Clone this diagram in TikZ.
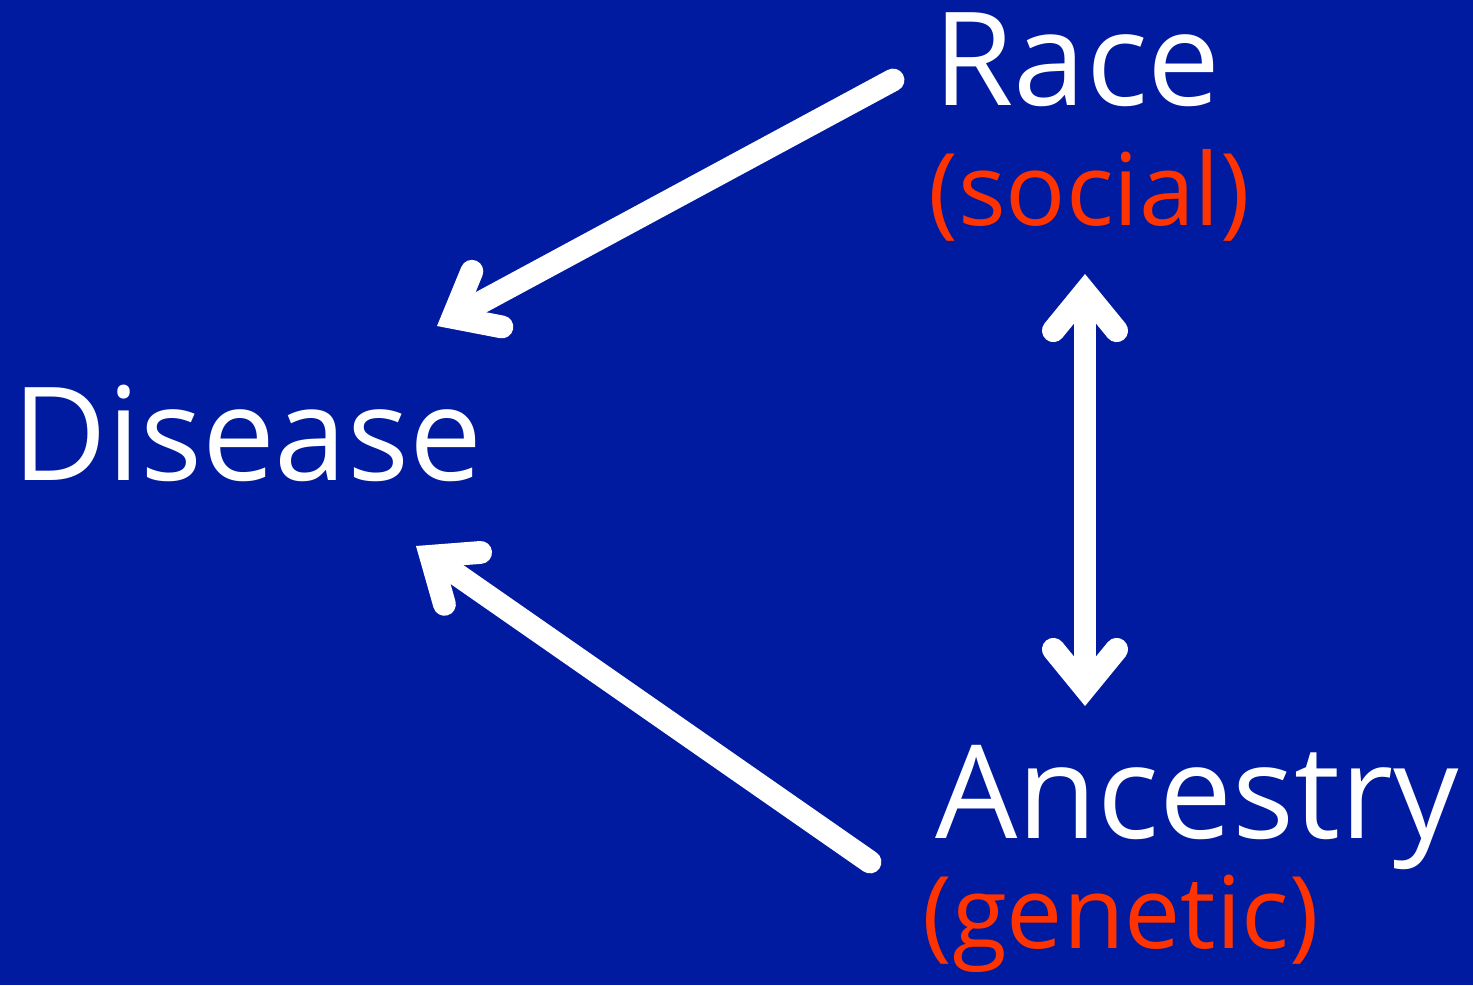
\documentclass[tikz,border=0pt]{standalone}
\usepackage{fontspec}
\setmainfont{Open Sans}
\usepackage{xcolor}
\usetikzlibrary{arrows.meta}
\definecolor{slideblue}{RGB}{0,26,160}
\definecolor{slidered}{RGB}{255,51,0}
\tikzset{
  big/.style={text=white,font=\fontsize{74}{80}\selectfont,inner sep=0pt,anchor=base west},
  small/.style={text=slidered,font=\fontsize{57}{62}\selectfont,inner sep=0pt,anchor=base west},
  barb/.tip={Straight Barb[length=22,width=36,line width=13,line cap=round,line join=miter]},
  arr/.style={white,line width=13,line cap=round,-barb},
  darr/.style={arr,barb-barb}
}
\begin{document}
\begin{tikzpicture}[x=0.02cm,y=-0.02cm]
% background
\fill[slideblue] (0,0) rectangle (1473,985);
\useasboundingbox (0,0) rectangle (1473,985);

% Labels
\node[big] (race) at (933,105) {Race};
\node[small] (social) at (928,225) {(social)};
\node[big] (disease) at (12,480) {Disease};
\node[big] (ancestry) at (935,838) {Ancestry};
\node[small] (genetic) at (922,948) {(genetic)};

% Arrow ends
\coordinate (raceout) at (893,80);
\coordinate (disin1) at (437,326);
\coordinate (ancout) at (870,862);
\coordinate (disin2) at (416,546);
\coordinate (socialbot) at (1085,274);
\coordinate (ancestrytop) at (1085,706);

% Arrows
\draw[arr] (raceout) -- (disin1);
\draw[arr] (ancout) -- (disin2);
\draw[darr] (socialbot) -- (ancestrytop);

\end{tikzpicture}
\end{document}
